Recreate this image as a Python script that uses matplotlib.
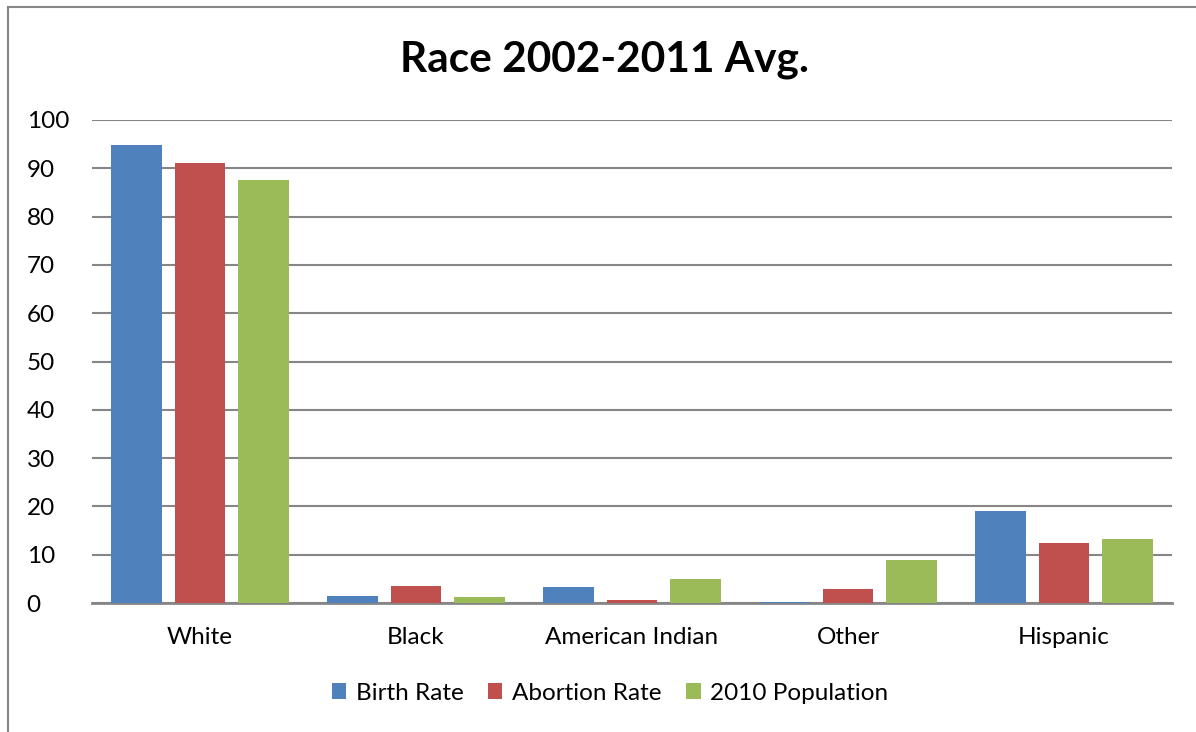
import matplotlib
matplotlib.use('Agg')
import matplotlib.pyplot as plt
from matplotlib.patches import Rectangle
import numpy as np

categories = ['White', 'Black', 'American Indian', 'Other', 'Hispanic']
birth_rate = [94.8, 1.5, 3.3, 0.3, 19.0]
abortion_rate = [91.1, 3.6, 0.6, 3.0, 12.5]
population_2010 = [87.6, 1.3, 5.0, 8.9, 13.3]

series_names = ['Birth Rate', 'Abortion Rate', '2010 Population']
colors = ['#4f81bd', '#c0504d', '#9bbb59']

plt.rcParams['font.family'] = ['Lato', 'DejaVu Sans']

fig = plt.figure(figsize=(11.96, 7.32), dpi=100)
ax = fig.add_axes([92 / 1196, 1 - 603 / 732, 1080 / 1196, 483 / 732])

x = np.arange(len(categories))
width = 0.236
step = 0.296
for i, (vals, name, c) in enumerate(zip([birth_rate, abortion_rate, population_2010], series_names, colors)):
    ax.bar(x + (i - 1) * step, vals, width, color=c, label=name, zorder=3)

ax.set_xlim(-0.5, 4.5)
ax.set_ylim(0, 100)
ax.set_yticks(range(0, 101, 10))
ax.yaxis.grid(True, color='#868686', linewidth=1.5, zorder=0)
ax.set_axisbelow(True)
for s in ['left', 'right', 'top']:
    ax.spines[s].set_visible(False)
ax.spines['bottom'].set_color('#868686')
ax.spines['bottom'].set_linewidth(2)
ax.spines['bottom'].set_zorder(2)
ax.set_xticks(x)
ax.set_xticklabels(categories)
ax.tick_params(axis='both', length=0, labelsize=17.5)
ax.tick_params(axis='x', pad=17)
ax.tick_params(axis='y', pad=47)
for lbl in ax.get_yticklabels():
    lbl.set_horizontalalignment('left')

fig.text(604 / 1196, 1 - 60 / 732, 'Race 2002-2011 Avg.', ha='center', va='center',
         fontsize=30.5, fontweight='bold')

fig.legend(loc='center', bbox_to_anchor=(610 / 1196, 1 - 693 / 732), ncol=3, frameon=False,
           fontsize=17.5, handlelength=0.6, handleheight=0.6, handletextpad=0.4, columnspacing=1.0)

fig.add_artist(Rectangle((8 / 1196, -0.1), 1.2, 1 - 7 / 732 + 0.1, transform=fig.transFigure,
                         fill=False, edgecolor='#868686', linewidth=1.5))

fig.savefig('out.png', dpi=100)
